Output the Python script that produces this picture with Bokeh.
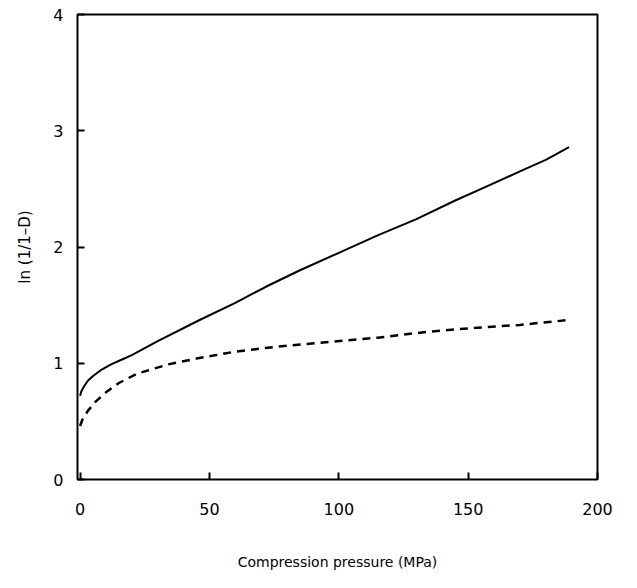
from bokeh.plotting import figure
from bokeh.embed import file_html
from bokeh.resources import INLINE
from bokeh.models import Range1d, FixedTicker

# Data
solid_x = [0, 0.5, 1.5, 3, 5, 8, 12, 16, 20, 30, 46, 60, 72, 85, 100, 115, 130, 145, 157, 170, 180, 189]
solid_y = [0.72, 0.76, 0.80, 0.85, 0.89, 0.94, 0.99, 1.03, 1.07, 1.19, 1.37, 1.52, 1.66, 1.8, 1.95, 2.1, 2.24, 2.4, 2.52, 2.65, 2.75, 2.86]

dash_x = [0, 1, 3, 6, 10, 15, 22, 34, 45, 60, 75, 95, 115, 134, 150, 170, 188]
dash_y = [0.46, 0.52, 0.59, 0.67, 0.75, 0.83, 0.91, 0.99, 1.04, 1.1, 1.14, 1.18, 1.22, 1.27, 1.3, 1.33, 1.37]

x_ticks = [0, 50, 100, 150, 200]
y_ticks = [0, 1, 2, 3, 4]

FONT = "DejaVu Sans"

p = figure(width=621, height=572, output_backend="svg", toolbar_location=None,
           x_range=Range1d(-1, 200), y_range=Range1d(0, 4),
           min_border_left=77, min_border_right=24, min_border_top=14, min_border_bottom=86)

p.line(solid_x, solid_y, line_color="black", line_width=2)
p.line(dash_x, dash_y, line_color="black", line_width=2.5, line_dash="8 6")

p.grid.visible = False
p.outline_line_color = "black"
p.outline_line_width = 2
p.background_fill_color = "white"
p.border_fill_color = "white"

for ax in (p.xaxis, p.yaxis):
    ax.axis_line_color = None
    ax.major_tick_in = 7
    ax.major_tick_out = 0
    ax.minor_tick_line_color = None
    ax.major_tick_line_color = "black"
    ax.major_tick_line_width = 2
    ax.major_label_text_font = FONT
    ax.major_label_text_font_size = "16px"
    ax.major_label_text_color = "black"
    ax.axis_label_text_font = FONT
    ax.axis_label_text_font_style = "normal"
    ax.axis_label_text_color = "black"

p.xaxis.ticker = FixedTicker(ticks=x_ticks)
p.yaxis.ticker = FixedTicker(ticks=y_ticks)
p.xaxis.major_label_standoff = 23
p.yaxis.major_label_standoff = 14
p.xaxis.axis_label = "Compression pressure (MPa)"
p.yaxis.axis_label = "ln (1/1\u2013D)"
p.xaxis.axis_label_text_font_size = "14px"
p.yaxis.axis_label_text_font_size = "15px"
p.xaxis.axis_label_standoff = 36
p.yaxis.axis_label_standoff = 16

open("out.html", "w").write(file_html(p, INLINE))
